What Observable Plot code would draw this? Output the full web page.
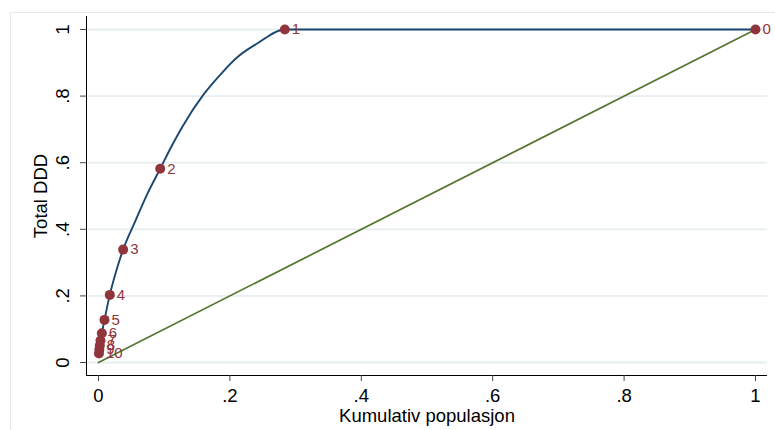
<!DOCTYPE html>
<html><head><meta charset="utf-8">
<script src="https://cdn.jsdelivr.net/npm/d3@7"></script>
<script src="https://cdn.jsdelivr.net/npm/@observablehq/plot@0.6"></script>
<style>
body{margin:0;background:#fff;}
#wrap{position:relative;width:775px;height:430px;overflow:hidden;}
#wrap::before{content:"";position:absolute;left:10px;top:12px;right:-10px;bottom:-10px;border-left:1px solid #e4eaeb;border-top:1px solid #e4eaeb;}
#wrap svg{position:absolute;left:0;top:0;font-family:"Liberation Sans",Arial,sans-serif;}
</style></head><body><div id="wrap"></div>
<script>
// Marker points (group labels 0..10)
const markerLabels = ["0","1","2","3","4","5","6","7","8","9","10"];
const markerX = [1.0, 0.2836, 0.0939, 0.0375, 0.0172, 0.0091, 0.0051, 0.0030, 0.0020, 0.0013, 0.0007];
const markerY = [1.0, 1.0, 0.582, 0.339, 0.203, 0.128, 0.088, 0.066, 0.051, 0.039, 0.027];

// Concentration curve
const curveX = [0.0007, 0.0013, 0.0020, 0.0030, 0.0051, 0.0091, 0.0172, 0.026, 0.0375, 0.055, 0.074, 0.0939, 0.110, 0.127, 0.160, 0.188, 0.212, 0.2415, 0.2836, 1.0];
const curveY = [0.027, 0.039, 0.051, 0.066, 0.088, 0.128, 0.203, 0.268, 0.339, 0.420, 0.505, 0.582, 0.645, 0.706, 0.805, 0.870, 0.918, 0.958, 1.0, 1.0];

// Line of equality
const equalX = [0, 1];
const equalY = [0, 1];

// Ticks
const xTicks = [0, 0.2, 0.4, 0.6, 0.8, 1];
const xTickLabels = ["0", ".2", ".4", ".6", ".8", "1"];
const yTicks = [0, 0.2, 0.4, 0.6, 0.8, 1];
const yTickLabels = ["0", ".2", ".4", ".6", ".8", "1"];

const xTitle = "Kumulativ populasjon";
const yTitle = "Total DDD";

const markers = markerLabels.map((t, i) => ({label: t, x: markerX[i], y: markerY[i]}));
const curve = curveX.map((x, i) => ({x, y: curveY[i]}));
const equal = equalX.map((x, i) => ({x, y: equalY[i]}));

const xDomain = [-12/657, 1 + 12/657];
const yDomain = [-13/333, 1 + 13/333];

const chart = Plot.plot({
  width: 775,
  height: 430,
  marginLeft: 86,
  marginRight: 8,
  marginTop: 16,
  marginBottom: 55,
  x: {domain: xDomain},
  y: {domain: yDomain},
  style: {background: "transparent", fontFamily: "'Liberation Sans', Arial, sans-serif", fontSize: "18.5px", color: "#000"},
  marks: [
    Plot.gridY(yTicks, {stroke: "#e6eef0", strokeOpacity: 1, strokeWidth: 1.8}),
    Plot.ruleX([xDomain[0]], {stroke: "#000", strokeWidth: 1}),
    Plot.ruleY([yDomain[0]], {stroke: "#000", strokeWidth: 1}),
    Plot.axisX(xTicks, {
      tickFormat: d => xTickLabels[xTicks.indexOf(d)],
      tickSize: 6, tickPadding: 7, fontSize: 18.5, stroke: "#444",
      label: xTitle, labelAnchor: "center", labelArrow: "none", labelOffset: 46
    }),
    Plot.axisY(yTicks, {
      tickFormat: d => yTickLabels[yTicks.indexOf(d)],
      tickSize: 6, tickPadding: 12, fontSize: 18.5, tickRotate: -90, stroke: "#444",
      label: yTitle, labelAnchor: "center", labelArrow: "none", labelOffset: 53
    }),
    Plot.line(equal, {x: "x", y: "y", stroke: "#55752f", strokeWidth: 1.7}),
    Plot.line(curve, {x: "x", y: "y", stroke: "#1a476f", strokeWidth: 1.9, curve: "monotone-x"}),
    Plot.dot(markers, {x: "x", y: "y", r: 5, fill: "#90353b", stroke: "none"}),
    Plot.text(markers, {x: "x", y: "y", text: "label", dx: 7, textAnchor: "start", fill: "#90353b", fontSize: 15})
  ]
});
document.getElementById("wrap").appendChild(chart);
</script>
</body></html>
